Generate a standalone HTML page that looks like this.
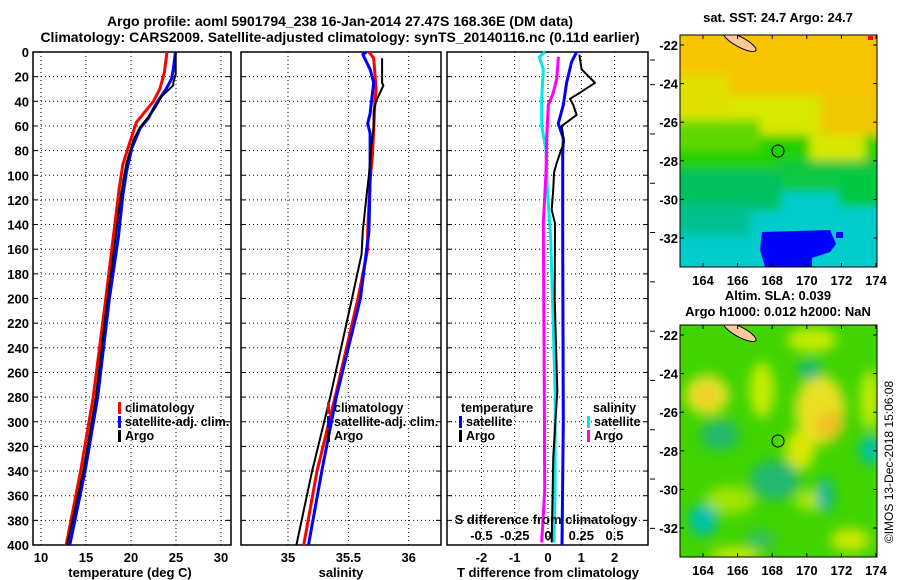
<!DOCTYPE html>
<html><head><meta charset="utf-8"><style>
html,body{margin:0;padding:0;background:#fff;}
svg{display:block;font-family:"Liberation Sans",sans-serif;font-weight:bold;}
</style></head><body>
<svg id="fig" width="900" height="580" viewBox="0 0 900 580">
<defs>
<filter id="blur1" x="-20%" y="-20%" width="140%" height="140%"><feGaussianBlur stdDeviation="5"/></filter>
<filter id="blur2" x="-20%" y="-20%" width="140%" height="140%"><feGaussianBlur stdDeviation="6"/></filter>
<clipPath id="clipMap1"><rect x="680" y="35" width="197" height="232"/></clipPath>
<clipPath id="clipMap2"><rect x="680" y="325" width="197" height="232"/></clipPath>
</defs>
<text x="340" y="26" font-size="14" text-anchor="middle">Argo profile: aoml 5901794_238 16-Jan-2014 27.47S 168.36E (DM data)</text>
<text x="340" y="42" font-size="14" text-anchor="middle">Climatology: CARS2009. Satellite-adjusted climatology: synTS_20140116.nc (0.11d earlier)</text>

<!-- SST map -->
<g>
<text x="778" y="22" font-size="13" text-anchor="middle">sat. SST: 24.7 Argo: 24.7</text>
<g clip-path="url(#clipMap1)">
<rect x="680" y="35" width="197" height="232" fill="#00cccc"/>
<g filter="url(#blur1)">
<rect x="670" y="25" width="220" height="95" fill="#f8c400"/>
<rect x="670" y="95" width="150" height="45" fill="#d8e800"/>
<rect x="820" y="95" width="70" height="40" fill="#f0c800"/>
<rect x="670" y="75" width="60" height="40" fill="#e0e000"/>
<rect x="670" y="135" width="220" height="40" fill="#20d000"/>
<rect x="670" y="120" width="90" height="30" fill="#60d800"/>
<rect x="810" y="135" width="55" height="35" fill="#d8e800"/>
<rect x="670" y="170" width="110" height="40" fill="#00c060"/>
<rect x="780" y="160" width="110" height="30" fill="#10c840"/>
<rect x="670" y="205" width="80" height="30" fill="#00c090"/>
<rect x="840" y="175" width="50" height="30" fill="#00c840"/>
</g>
<polygon points="762,232 830,230 836,244 830,252 812,258 812,267 765,267 760,250" fill="#0000ff"/>
<rect x="836" y="232" width="7" height="6" fill="#0000ff"/>
<ellipse cx="740" cy="42" rx="18" ry="5" transform="rotate(28 740 42)" fill="#ffc896" stroke="#000" stroke-width="1"/>
<rect x="868" y="36" width="5" height="4" fill="#ff0000"/>
<circle cx="778" cy="151" r="6" fill="none" stroke="#000" stroke-width="1"/>
</g>
<rect x="680" y="35" width="197" height="232" fill="none" stroke="#000" stroke-width="1"/>
</g>

<!-- SLA map -->
<g>
<text x="778" y="300" font-size="13" text-anchor="middle">Altim. SLA: 0.039</text>
<text x="778" y="316" font-size="13" text-anchor="middle">Argo h1000: 0.012 h2000: NaN</text>
<g clip-path="url(#clipMap2)">
<rect x="680" y="325" width="197" height="232" fill="#40d400"/>
<g filter="url(#blur2)">
<ellipse cx="707" cy="395" rx="22" ry="20" fill="#e8e020"/>
<ellipse cx="707" cy="395" rx="10" ry="8" fill="#f0c830"/>
<ellipse cx="762" cy="390" rx="12" ry="28" fill="#c8ec00"/>
<ellipse cx="812" cy="340" rx="25" ry="12" fill="#c8ec00"/>
<ellipse cx="820" cy="410" rx="25" ry="35" fill="#e8e020"/>
<ellipse cx="830" cy="425" rx="14" ry="14" fill="#f0c020"/>
<ellipse cx="800" cy="450" rx="15" ry="20" fill="#d8e800"/>
<ellipse cx="870" cy="400" rx="10" ry="30" fill="#c0ec00"/>
<ellipse cx="730" cy="500" rx="25" ry="14" fill="#a0e400"/>
<ellipse cx="812" cy="500" rx="18" ry="10" fill="#b0e800"/>
<ellipse cx="850" cy="540" rx="20" ry="12" fill="#c8e800"/>
<ellipse cx="735" cy="555" rx="25" ry="8" fill="#c8e800"/>
<ellipse cx="703" cy="520" rx="14" ry="16" fill="#00c0b0"/>
<ellipse cx="810" cy="370" rx="12" ry="10" fill="#10b880"/>
<ellipse cx="870" cy="450" rx="10" ry="15" fill="#00c0b0"/>
<ellipse cx="825" cy="495" rx="8" ry="18" fill="#10b8a0"/>
<ellipse cx="720" cy="435" rx="20" ry="15" fill="#20b870"/>
<ellipse cx="775" cy="480" rx="25" ry="20" fill="#20b870"/>
<ellipse cx="760" cy="540" rx="15" ry="10" fill="#30c060"/>
</g>
<ellipse cx="740" cy="332" rx="18" ry="5" transform="rotate(28 740 332)" fill="#ffc896" stroke="#000" stroke-width="1"/>
<circle cx="778" cy="441" r="6" fill="none" stroke="#000" stroke-width="1"/>
</g>
<rect x="680" y="325" width="197" height="232" fill="none" stroke="#000" stroke-width="1"/>
<text x="893" y="462" font-size="12" font-weight="normal" text-anchor="middle" transform="rotate(-90 893 462)">©IMOS 13-Dec-2018 15:06:08</text>
</g>
<g id="mapAxes"></g>
<g id="charts"></g>
</svg>
<script>
// ---- data ----
const depthTicks = [0,20,40,60,80,100,120,140,160,180,200,220,240,260,280,300,320,340,360,380,400];
const tempTicks = [10,15,20,25,30];
const salTicks = [35,35.5,36];
const tdiffTicks = [-2,-1,0,1,2];
const sdiffTicks = [-0.5,-0.25,0,0.25,0.5];
const sdiffLabels = ["-0.5","-0.25","0","0.25","0.5"];
const latTicks = [-22,-24,-26,-28,-30,-32];
const lonTicks = [164,166,168,170,172,174];

const climTDepth = [0,17,30,40,48,57,75,91,110,140,200,280,340,400];
const climT = [24.0,23.7,23.2,22.5,21.6,20.6,19.8,19.1,18.7,18.2,17.2,15.8,14.4,12.8];
const satTDepth = [0,14,22,30,42,54,62,78,97,116,150,200,280,340,400];
const satT = [24.95,24.7,24.5,23.9,22.8,21.9,21.0,20.1,19.5,19.1,18.6,17.6,16.3,14.9,13.2];
const argoTDepth = [0,18,25,27,36,45,53,61,71,90,106,125,150,200,280,340,400];
const argoT = [24.97,24.97,24.7,24.7,23.4,22.7,21.9,21.0,20.3,19.5,19.1,18.7,18.3,17.4,16.1,14.7,12.9];

const climSDepth = [0,5,30,40,63,83,104,145,160,200,280,340,400];
const climS = [35.67,35.71,35.73,35.72,35.71,35.70,35.68,35.66,35.66,35.58,35.39,35.24,35.13];
const satSDepth = [0,2,14,25,50,58,66,104,146,200,280,340,400];
const satS = [35.65,35.62,35.68,35.71,35.68,35.66,35.68,35.68,35.67,35.60,35.40,35.28,35.17];
const argoSDepth = [5,25,27,40,48,61,76,100,117,145,164,200,280,340,400];
const argoS = [35.78,35.78,35.79,35.73,35.71,35.71,35.69,35.67,35.65,35.62,35.61,35.53,35.35,35.20,35.07];

const argoTdDepth = [2,14,25,33,38,43,51,60,73,90,98,111,128,139,200,275,328,398];
const argoTd = [0.94,1.01,1.41,0.96,0.66,0.76,0.86,0.41,0.48,0.26,0.18,0.16,0.11,0.21,0.20,0.28,0.16,0.11];
const satTdDepth = [0,8,25,43,58,70,84,151,300,400];
const satTd = [0.86,0.71,0.56,0.46,0.31,0.46,0.44,0.44,0.46,0.42];
const satSdDepth = [0,4,14,38,60,79,111,151,275,356,398];
const satSd = [-0.023,-0.065,-0.035,-0.047,-0.047,-0.015,-0.005,0.02,0.053,0.053,0.045];
const argoSdDepth = [4,22,33,43,70,98,139,275,356,398];
const argoSd = [0.078,0.065,0.04,0.002,-0.01,-0.015,-0.035,-0.028,-0.025,-0.047];

// ---- helpers ----
const NS = "http://www.w3.org/2000/svg";
const root = document.getElementById('charts');
function mk(tag, attrs, parent){
  const e = document.createElementNS(NS, tag);
  for (const k in attrs) e.setAttribute(k, attrs[k]);
  (parent||root).appendChild(e);
  return e;
}
const TOP=52, BOT=545;
const yD = d => TOP + (d/400)*(BOT-TOP);
const xT = v => 41 + (v-10)*9.0;
const xS = v => 288 + (v-35)*120.7;
const xTd = v => 548 + v*33.3;
const xSd = v => 548 + v*133.2;

function panel(name, x0, x1, xTicksArr, xf, labels, leftLabels){
  const g = mk('g', {});
  
  
  xTicksArr.forEach((v,i)=>{
    const x = xf(v);
    const l = mk('line',{x1:x,x2:x,y1:TOP,y2:BOT,stroke:'#000','stroke-width':1,'stroke-dasharray':'1,3'},g);
    
    
    if (labels){
      const t = mk('text',{x:x,y:562,'font-size':13,'text-anchor':'middle'},g);
      
      
      t.textContent = labels[i];
    }
  });
  depthTicks.forEach(d=>{
    const y = yD(d);
    if (d>0 && d<400){
      const l = mk('line',{x1:x0,x2:x1,y1:y,y2:y,stroke:'#000','stroke-width':1,'stroke-dasharray':'1,3'},g);
      
      
    }
    mk('line',{x1:x0,x2:x0+5,y1:y,y2:y,stroke:'#000'},g);
    mk('line',{x1:x1-5,x2:x1,y1:y,y2:y,stroke:'#000'},g);
    if (leftLabels){
      const t = mk('text',{x:x0-4,y:y+5,'font-size':13,'text-anchor':'end'},g);
      
      
      t.textContent = d;
    }
  });
  const r = mk('rect',{x:x0,y:TOP,width:x1-x0,height:BOT-TOP,fill:'none',stroke:'#000','stroke-width':1.5},g);
  
  
  return g;
}
function series(g, name, depths, vals, xf, color, w){
  const pts = depths.map((d,i)=> xf(vals[i]).toFixed(1)+','+yD(d).toFixed(1)).join(' ');
  const p = mk('polyline',{points:pts,fill:'none',stroke:color,'stroke-width':w,'stroke-linejoin':'round'},g);
  
  
}
function legend(g, name, x, y, items){
  items.forEach((it,i)=>{
    const yy = y + i*14;
    if (it[1]){
      const b = mk('rect',{x:x,y:yy-10,width:3,height:12,fill:it[1]},g);
      
      
    }
    const t = mk('text',{x:x+(it[1]?7:0),y:yy,'font-size':12.5},g);
    
    
    t.textContent = it[0];
  });
}

// panel 1 temperature
const p1 = panel('temperature-panel', 33, 231, tempTicks, xT, tempTicks.map(String), true);
series(p1,'climatology-temperature-line',climTDepth,climT,xT,'#ff0000',3);
series(p1,'satellite-temperature-line',satTDepth,satT,xT,'#0000ff',3);
series(p1,'argo-temperature-line',argoTDepth,argoT,xT,'#000000',2);
legend(p1,'temperature-legend',118,412,[['climatology','#ff0000'],['satellite-adj. clim.','#0000ff'],['Argo','#000']]);
const xl1 = mk('text',{x:130,y:577,'font-size':13,'text-anchor':'middle'},p1);


xl1.textContent='temperature (deg C)';

// panel 2 salinity
const p2 = panel('salinity-panel', 241, 441, salTicks, xS, ['35','35.5','36'], false);
series(p2,'climatology-salinity-line',climSDepth,climS,xS,'#ff0000',3);
series(p2,'satellite-salinity-line',satSDepth,satS,xS,'#0000ff',3);
series(p2,'argo-salinity-line',argoSDepth,argoS,xS,'#000000',2);
legend(p2,'salinity-legend',327,412,[['climatology','#ff0000'],['satellite-adj. clim.','#0000ff'],['Argo','#000']]);
const xl2 = mk('text',{x:341,y:577,'font-size':13,'text-anchor':'middle'},p2);


xl2.textContent='salinity';

// panel 3 differences
const p3 = panel('difference-panel', 447, 648, tdiffTicks, xTd, tdiffTicks.map(String), false);
depthTicks.forEach(d=>{ if(d%40===20 || d===0) mk('line',{x1:650,x2:655,y1:yD(d)+8,y2:yD(d)+8,stroke:'#000'},p3); });
series(p3,'satellite-salinity-diff-line',satSdDepth,satSd,xSd,'#00e8e8',3);
series(p3,'argo-salinity-diff-line',argoSdDepth,argoSd,xSd,'#ff00ff',3);
series(p3,'satellite-temperature-diff-line',satTdDepth,satTd,xTd,'#0000ff',3);
series(p3,'argo-temperature-diff-line',argoTdDepth,argoTd,xTd,'#000000',2);
legend(p3,'diff-temperature-legend',461,412,[['temperature',null]]);
legend(p3,'diff-temperature-legend',459,426,[['satellite','#0000ff'],['Argo','#000']]);
legend(p3,'diff-salinity-legend',593,412,[['salinity',null]]);
legend(p3,'diff-salinity-legend',587,426,[['satellite','#00e8e8'],['Argo','#ff00ff']]);
const sdl = mk('text',{x:546,y:524,'font-size':13,'text-anchor':'middle'},p3);


sdl.textContent='S difference from climatology';
sdiffTicks.forEach((v,i)=>{
  const t = mk('text',{x:xSd(v),y:540,'font-size':13,'text-anchor':'middle'},p3);
  
  
  t.textContent = sdiffLabels[i];
});
const xl3 = mk('text',{x:548,y:577,'font-size':13,'text-anchor':'middle'},p3);


xl3.textContent='T difference from climatology';

// map axes
const ma = document.getElementById('mapAxes');
[[35,45,'sst-map'],[325,335,'sla-map']].forEach(([top,y22,nm])=>{
  latTicks.forEach(lat=>{
    const y = y22 + (-22-lat)*19.3;
    mk('line',{x1:680,x2:684,y1:y,y2:y,stroke:'#000'},ma);
    mk('line',{x1:873,x2:877,y1:y,y2:y,stroke:'#000'},ma);
    const t = mk('text',{x:678,y:y+5,'font-size':13,'text-anchor':'end'},ma);
    
    
    t.textContent = lat;
  });
  lonTicks.forEach(lon=>{
    const x = 703 + (lon-164)*17.3;
    mk('line',{x1:x,x2:x,y1:top,y2:top+4,stroke:'#000'},ma);
    mk('line',{x1:x,x2:x,y1:top+228,y2:top+232,stroke:'#000'},ma);
    const t = mk('text',{x:x,y:top+250,'font-size':13,'text-anchor':'middle'},ma);
    
    
    t.textContent = lon;
  });
});
</script>
</body></html>
